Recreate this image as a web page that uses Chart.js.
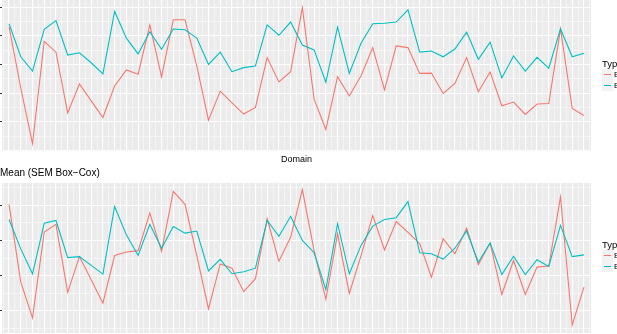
<!DOCTYPE html>
<html>
<head>
<meta charset="utf-8">
<script src="https://cdn.jsdelivr.net/npm/chart.js@4.4.1/dist/chart.umd.min.js"></script>
<style>
body{margin:0;width:617px;height:334px;overflow:hidden;background:#fff;position:relative;font-family:"Liberation Sans",Arial,sans-serif}
#top{position:absolute;left:0;top:0}
#bottom{position:absolute;left:0;top:163px}
.legend{position:absolute;left:602px;color:#000;white-space:nowrap}
.legend .ttl{font-size:9.5px;height:11px;line-height:11px}
.key{display:flex;align-items:center;height:11px;font-size:8px}
.key i{display:inline-block;width:11px;height:11px;background:#f2f2f2;position:relative;margin-right:1px}
.key i:after{content:"";position:absolute;left:2px;right:2px;top:5px;border-top:1.2px solid currentColor}
</style>
</head>
<body>
<canvas id="top" width="617" height="168"></canvas>
<canvas id="bottom" width="617" height="171"></canvas>
<div class="legend" style="top:58px">
  <div class="ttl">Type</div>
  <div class="key" style="color:#F8766D"><i></i><span style="color:#000">Empirical</span></div>
  <div class="key" style="color:#00BFC4"><i></i><span style="color:#000">Expected</span></div>
</div>
<div class="legend" style="top:239px">
  <div class="ttl">Type</div>
  <div class="key" style="color:#F8766D"><i></i><span style="color:#000">Empirical</span></div>
  <div class="key" style="color:#00BFC4"><i></i><span style="color:#000">Expected</span></div>
</div>
<script>
// domains 1..50 along x (labels cut off in the reference)
const domains = Array.from({length: 50}, (_, i) => i + 1);

// top panel (y labels cut off, values in grid units)
const topRed = [3.31,1.18,-0.76,2.81,2.43,0.31,1.32,0.73,0.15,1.25,
  1.81,1.66,3.38,1.57,3.56,3.56,1.95,0.06,1.07,0.66,
  0.27,0.50,2.24,1.39,1.75,3.98,0.79,-0.27,1.57,0.90,
  1.61,2.59,1.11,2.65,2.59,1.69,1.70,0.99,1.34,2.24,
  1.05,1.74,0.56,0.69,0.26,0.62,0.64,3.24,0.47,0.22];
const topTeal = [3.42,2.27,1.77,3.23,3.53,2.33,2.41,2.06,1.67,3.85,
  2.92,2.37,3.14,2.53,3.24,3.21,2.92,2.00,2.43,1.75,
  1.89,1.95,3.38,3.02,3.48,2.68,2.51,1.38,3.30,1.69,
  2.74,3.42,3.44,3.48,3.91,2.43,2.47,2.27,2.54,3.13,
  2.18,2.78,1.53,2.30,1.77,2.25,1.87,3.24,2.27,2.39];

// bottom panel: Mean (SEM Box-Cox)
const botRed = [3.03,0.81,-0.21,2.24,2.46,0.52,1.54,0.88,0.21,1.57,
  1.67,1.71,2.78,1.69,3.40,3.03,1.57,0.05,1.33,1.21,
  0.54,0.91,2.62,1.41,2.09,3.45,1.71,0.33,2.19,0.49,
  1.57,2.71,1.73,2.54,2.23,1.91,0.95,2.05,1.62,2.35,
  1.31,1.93,0.46,1.43,0.46,1.24,1.27,3.24,-0.41,0.67];
const botTeal = [2.60,1.76,1.05,2.49,2.57,1.51,1.54,1.29,1.04,2.97,
  2.16,1.57,2.46,1.78,2.40,2.21,2.27,1.13,1.46,1.05,
  1.11,1.21,2.57,2.12,2.69,2.00,1.65,0.60,2.48,1.05,
  1.86,2.41,2.60,2.65,3.11,1.65,1.62,1.47,1.78,2.27,
  1.38,1.93,1.03,1.55,1.03,1.45,1.26,2.43,1.54,1.59];

const RED = '#F8766D', TEAL = '#00BFC4';

// grey panel behind the grid
const panelBg = {
  id: 'panelBg',
  beforeDraw(chart) {
    const a = chart.chartArea, ctx = chart.ctx;
    ctx.save();
    ctx.fillStyle = '#EBEBEB';
    ctx.fillRect(a.left, a.top, a.right - a.left, a.bottom - a.top);
    ctx.restore();
  }
};

function isMajor(c) { return Number.isInteger(c.tick.value); }

function makePanel(id, red, teal, yMin, yMax, xTitle, title, pad) {
  return new Chart(document.getElementById(id), {
    type: 'line',
    data: {
      datasets: [
        { label: 'Empirical', data: red.map((v, i) => ({x: domains[i], y: v})),
          borderColor: RED, borderWidth: 1.1, pointRadius: 0, order: 1 },
        { label: 'Expected', data: teal.map((v, i) => ({x: domains[i], y: v})),
          borderColor: TEAL, borderWidth: 1.1, pointRadius: 0, order: 0 }
      ]
    },
    options: {
      responsive: false,
      animation: false,
      devicePixelRatio: 1,
      layout: { padding: pad },
      plugins: {
        legend: { display: false },
        tooltip: { enabled: false },
        title: {
          display: !!title, text: title, align: 'start', color: '#000',
          font: { family: '"Liberation Sans", Arial, sans-serif', size: 10, weight: 'normal' },
          padding: { top: 4.5, bottom: 3.5 }
        }
      },
      scales: {
        x: {
          type: 'linear', min: 0.4, max: 50.6,
          ticks: { display: false, stepSize: 0.5, includeBounds: false },
          grid: { color: '#fff', lineWidth: c => isMajor(c) ? 1.1 : 0.5, drawTicks: false },
          border: { display: false },
          title: {
            display: !!xTitle, text: xTitle, color: '#000',
            font: { family: '"Liberation Sans", Arial, sans-serif', size: 9 },
            padding: { top: 4, bottom: 3 }
          }
        },
        y: {
          min: yMin, max: yMax,
          ticks: { display: false, stepSize: 0.5, includeBounds: false },
          grid: { color: '#fff', lineWidth: c => isMajor(c) ? 1.1 : 0.5, tickLength: 2,
                  tickColor: c => isMajor(c) ? '#333' : 'rgba(0,0,0,0)' },
          border: { display: false }
        }
      }
    },
    plugins: [panelBg]
  });
}

makePanel('top', topRed, topTeal, -0.99, 4.25, 'Domain', '', {left: 0, right: 26, top: 0, bottom: 0});
makePanel('bottom', botRed, botTeal, -0.64, 3.64, '', 'Mean (SEM Box\u2212Cox)', {left: 0, right: 26, top: 0, bottom: 1});
</script>
</body>
</html>
